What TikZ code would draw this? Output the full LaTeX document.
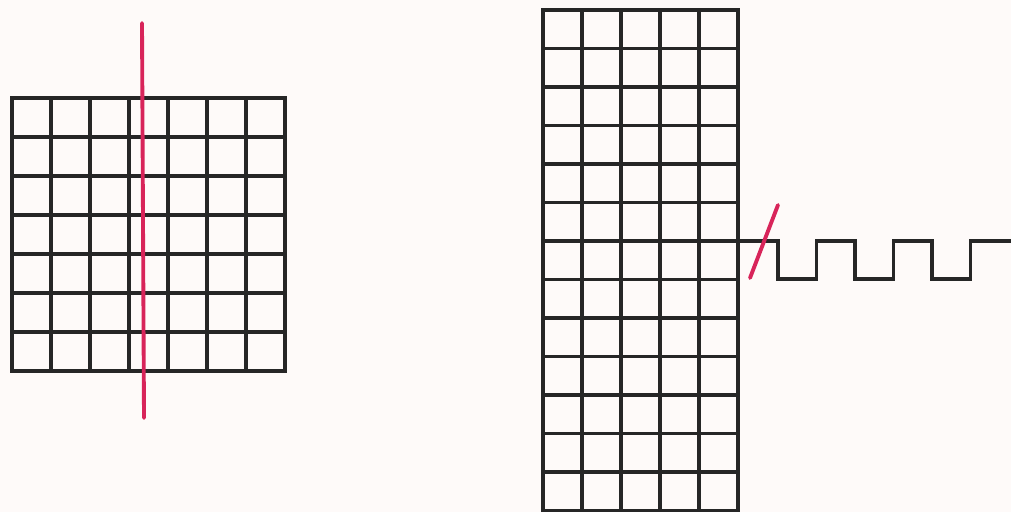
\documentclass[tikz,border=0pt]{standalone}
\usepackage{tikz}
\usepackage{xcolor}
\definecolor{Ink}{HTML}{262626}
\definecolor{Cut}{HTML}{D8245A}
\definecolor{Paper}{HTML}{FEFAF9}

\begin{document}
\begin{tikzpicture}[x=1cm,y=1cm]
\fill[Paper] (0,0) rectangle (20.22,10.24);
\useasboundingbox (0,0) rectangle (20.22,10.24);
% square grid, 7 by 7
\foreach \i in {0,...,7} {\draw[Ink,line width=1.9pt,line cap=rect] (0.24+0.78*\i,2.82) -- (0.24+0.78*\i,8.28); \draw[Ink,line width=1.9pt,line cap=rect] (0.24,2.82+0.78*\i) -- (5.70,2.82+0.78*\i);}
\draw[Cut,line width=2.2pt,line cap=round] (2.84,9.78) -- (2.88,1.88);
% tall grid, 5 by 13
\foreach \i in {0,...,5} {\draw[Ink,line width=1.9pt,line cap=rect] (10.86+0.78*\i,0.03) -- (10.86+0.78*\i,10.04);}
\foreach \j in {0,...,13} {\draw[Ink,line width=1.9pt,line cap=rect] (10.86,0.03+0.77*\j) -- (14.76,0.03+0.77*\j);}
% square wave leaving the grid
\draw[Ink,line width=1.9pt] (14.76,5.42) -- (15.56,5.42) -- (15.56,4.66) -- (16.33,4.66) -- (16.33,5.42) -- (17.10,5.42) -- (17.10,4.66) -- (17.87,4.66) -- (17.87,5.42) -- (18.64,5.42) -- (18.64,4.66) -- (19.41,4.66) -- (19.41,5.42) -- (20.22,5.42);
\draw[Cut,line width=2.2pt,line cap=round] (15.00,4.68) -- (15.56,6.14);
\end{tikzpicture}
\end{document}
